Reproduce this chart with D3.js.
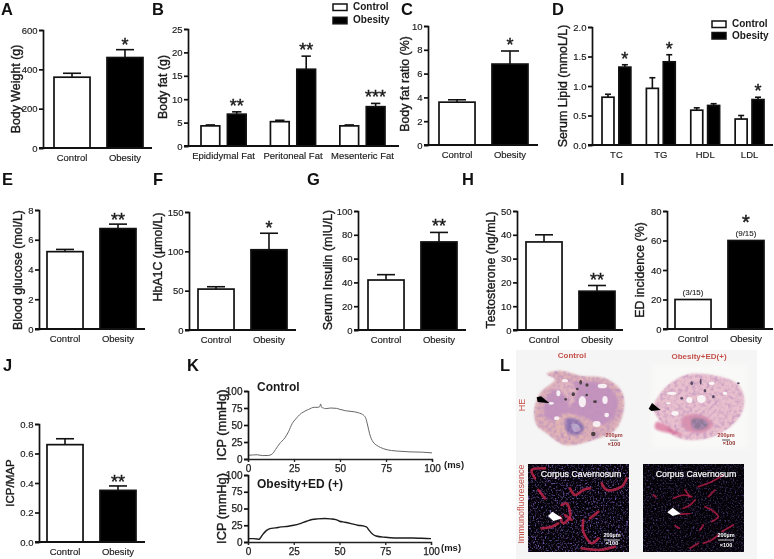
<!DOCTYPE html>
<html><head><meta charset="utf-8">
<script src="https://cdn.jsdelivr.net/npm/d3@7"></script>
<style>
html,body{margin:0;padding:0;background:#fff}
svg{display:block;filter:blur(0.3px)}
text{font-family:"Liberation Sans",Arial,sans-serif;fill:#1a1a1a}
.tick text{font-size:9.5px;stroke:#1a1a1a;stroke-width:.15px}
.title{font-size:12.4px;stroke:#1a1a1a;stroke-width:.38px}
.letter{font-size:16.5px;font-weight:bold;fill:#111}
</style></head><body>
<svg id="c" width="774" height="559"></svg>
<script>
// ---------- data ----------
const groups2 = ["Control","Obesity"];
const seriesNames = ["Control","Obesity"];

const weightMean = [360,460], weightTop = [380,500];
const fatCats = ["Epididymal Fat","Peritoneal Fat","Mesenteric Fat"];
const fatControl = [4.3,5.2,4.3], fatControlTop = [4.5,5.5,4.5];
const fatObesity = [6.8,16.4,8.4], fatObesityTop = [7.3,19.2,9.1];
const fatStars = ["**","**","***"];
const ratioMean = [3.6,6.8], ratioTop = [3.8,7.9];
const lipidCats = ["TC","TG","HDL","LDL"];
const lipidControl = [0.81,0.96,0.59,0.44], lipidControlTop = [0.86,1.14,0.63,0.50];
const lipidObesity = [1.32,1.41,0.67,0.77], lipidObesityTop = [1.36,1.53,0.70,0.81];
const lipidStars = ["*","*","","*"];
const glucoseMean = [5.2,6.75], glucoseTop = [5.35,7.05];
const hba1cMean = [52,102], hba1cTop = [55,123];
const insulinMean = [42,74], insulinTop = [46.5,82];
const testoMean = [37,16.3], testoTop = [40,18.7];
const edMean = [20,60];
const edLabels = ["(3/15)","(9/15)"];
const icpMean = [0.66,0.35], icpTop = [0.70,0.38];

const icpTimeA = [0,3,5,8,11,13,15,17,20,22,24,26,28,30,33,36,38,39,39.5,40,41,42,45,48,50,53,56,60,63,64,65,66,67,68,70,72,75,78,82,88,95,100];
const icpCtrl  = [5.5,6,6.2,5,5.2,7,14,22,31,40,52,59,65,69,73,76,76,77,81,76,75,74,75,74.5,73,71,70,68,64,60,50,38,30,25,20,17,14,12.5,11.5,10.5,10,9];
const icpTimeB = [0,3,5,6,7,8,10,12,15,18,22,25,28,32,35,38,42,45,48,50,53,57,60,63,65,66,68,70,75,80,85,90,95,100];
const icpObese = [5,5,4.5,4,7,11,17,20,21,22.5,23.5,25,27,31,33.5,34.5,35,34.5,33.5,31,29.5,27,25,24,22,18,12,9,7,6,6,6,5.5,5];
const icpTicks = [0,25,50,75,100];

// ---------- layout ----------
const svg = d3.select("#c");
const defs = svg.append("defs");
const AXIS = 1.7;

function yAxisGroup(g, y, x0, ticks, fmt){
  const ax = d3.axisLeft(y).tickValues(ticks).tickSize(4).tickPadding(1.5);
  if(fmt) ax.tickFormat(d3.format(fmt));
  const a = g.append("g").attr("transform",`translate(${x0},0)`).call(ax);
  a.selectAll("path,line").attr("stroke","#111").attr("stroke-width",AXIS);
  return a;
}
function xBase(g, x0, x1, y0){
  g.append("line").attr("x1",x0-4).attr("x2",x1).attr("y1",y0).attr("y2",y0)
    .attr("stroke","#111").attr("stroke-width",AXIS+.3);
}
function xLabels(g, scale, y0){
  const a = g.append("g").attr("transform",`translate(0,${y0})`)
    .call(d3.axisBottom(scale).tickSize(0).tickPadding(6));
  a.select(".domain").remove();
}
function ytitle(t,x,y,size){
  const el = svg.append("text").attr("class","title")
    .attr("transform",`translate(${x},${y}) rotate(-90)`)
    .attr("text-anchor","middle").attr("dominant-baseline","middle").text(t);
  if(size) el.style("font-size",size+"px");
}
function star(g,s,x,yc,fs){
  fs = fs||18;
  g.append("text").attr("x",x).attr("y",yc+fs*.52).attr("text-anchor","middle")
    .style("font-size",fs+"px").style("stroke","#1a1a1a").style("stroke-width",".45px").text(s);
}
function bar(g,x,w,yS,v,top,fill){
  const y0 = yS.range()[0];
  if(top!=null){
    g.append("line").attr("x1",x+w/2).attr("x2",x+w/2).attr("y1",yS(v)).attr("y2",yS(top))
      .attr("stroke","#111").attr("stroke-width",1.6);
    g.append("line").attr("x1",x+w/4).attr("x2",x+w*3/4).attr("y1",yS(top)).attr("y2",yS(top))
      .attr("stroke","#111").attr("stroke-width",1.6);
  }
  g.append("rect").attr("x",x).attr("width",w).attr("y",yS(v)).attr("height",y0-yS(v))
    .attr("fill",fill).attr("stroke","#111").attr("stroke-width",1.7);
}
function simple(o){
  const g = svg.append("g");
  const y = d3.scaleLinear().domain(o.dom).range([o.y0,o.y1]);
  const x = d3.scaleBand().domain(groups2).range(o.bars).paddingInner(.32).paddingOuter(0);
  o.mean.forEach((v,i)=>bar(g,x(groups2[i]),x.bandwidth(),y,v,o.top?o.top[i]:null,i?"#000":"#fff"));
  yAxisGroup(g,y,o.x0,o.ticks,o.fmt);
  xBase(g,o.x0,o.x1,o.y0);
  xLabels(g,x,o.y0);
  if(o.star){
    const i=o.starIdx;
    star(g,o.star,x(groups2[i])+x.bandwidth()/2,y(o.top[i])-(o.starOff||8.5));
  }
  ytitle(o.title,o.tx,o.ty,o.tsize);
  return {g,x,y};
}
function grouped(o){
  const g = svg.append("g");
  const y = d3.scaleLinear().domain(o.dom).range([o.y0,o.y1]);
  const x = d3.scaleBand().domain(o.cats).range(o.bars).paddingInner(.35).paddingOuter(0);
  const xi = d3.scaleBand().domain(seriesNames).range([0,x.bandwidth()]).paddingInner(.29).paddingOuter(0);
  o.cats.forEach((c,i)=>{
    bar(g,x(c)+xi("Control"),xi.bandwidth(),y,o.a[i],o.aTop[i],"#fff");
    bar(g,x(c)+xi("Obesity"),xi.bandwidth(),y,o.b[i],o.bTop[i],"#000");
    if(o.stars[i]) star(g,o.stars[i],x(c)+xi("Obesity")+xi.bandwidth()/2,y(o.bTop[i])-9.5);
  });
  yAxisGroup(g,y,o.x0,o.ticks,o.fmt);
  xBase(g,o.x0,o.x1,o.y0);
  xLabels(g,x,o.y0);
  ytitle(o.title,o.tx,o.ty);
  // legend
  seriesNames.forEach((n,i)=>{
    g.append("rect").attr("x",o.lx).attr("y",o.ly+i*o.ldy).attr("width",14).attr("height",6.5)
      .attr("fill",i?"#000":"#fff").attr("stroke","#111").attr("stroke-width",1.5);
    g.append("text").attr("x",o.lx+20).attr("y",o.ly+i*o.ldy+3.5).attr("dominant-baseline","middle")
      .style("font-size","10px").style("font-weight","bold").style("stroke","none").text(n);
  });
}

simple({mean:weightMean,top:weightTop,dom:[0,600],ticks:[0,200,400,600],y0:148,y1:30,x0:43,x1:152,bars:[54,143],title:"Body Weight (g)",tx:17,ty:89,star:"*",starIdx:1,starOff:8});
grouped({cats:fatCats,a:fatControl,aTop:fatControlTop,b:fatObesity,bTop:fatObesityTop,stars:fatStars,dom:[0,25],ticks:d3.range(0,26,5),y0:146,y1:29,x0:188,x1:399,bars:[201,385],title:"Body fat (g)",tx:164,ty:87,lx:333,ly:4,ldy:13.3});
simple({mean:ratioMean,top:ratioTop,dom:[0,10],ticks:d3.range(0,11,2),y0:145,y1:26,x0:428,x1:538,bars:[439,528],title:"Body fat ratio (%)",tx:406,ty:84,star:"*",starIdx:1,starOff:9});
grouped({cats:lipidCats,a:lipidControl,aTop:lipidControlTop,b:lipidObesity,bTop:lipidObesityTop,stars:lipidStars,dom:[0,2],ticks:[0,.5,1,1.5,2],fmt:".1f",y0:145,y1:27,x0:592,x1:773,bars:[602,764],title:"Serum Lipid (mmoL/L)",tx:564,ty:86,lx:712,ly:21,ldy:11.5});

simple({mean:glucoseMean,top:glucoseTop,dom:[0,8],ticks:[0,2,4,6,8],y0:329,y1:210,x0:39,x1:145,bars:[47,136],title:"Blood glucose (mol/L)",tx:19,ty:270,star:"**",starIdx:1,starOff:7});
simple({mean:hba1cMean,top:hba1cTop,dom:[0,150],ticks:[0,50,100,150],y0:330,y1:212,x0:189,x1:296,bars:[198,287],title:"HbA1C (µmol/L)",tx:159,ty:257,star:"*",starIdx:1,starOff:9});
simple({mean:insulinMean,top:insulinTop,dom:[0,100],ticks:d3.range(0,101,20),y0:330,y1:211,x0:358,x1:466,bars:[368,457],title:"Serum Insulin (mIU/L)",tx:329,ty:270,star:"**",starIdx:1,starOff:10});
simple({mean:testoMean,top:testoTop,dom:[0,50],ticks:d3.range(0,51,10),y0:330,y1:211,x0:517,x1:623,bars:[526,615],title:"Testosterone (ng/mL)",tx:492,ty:270,star:"**",starIdx:1,starOff:9});
const edP = simple({mean:edMean,dom:[0,80],ticks:[0,20,40,60,80],y0:329,y1:211,x0:667,x1:773,bars:[675,764],title:"ED incidence (%)",tx:641,ty:270});
edMean.forEach((v,i)=>{
  edP.g.append("text").attr("x",edP.x(groups2[i])+edP.x.bandwidth()/2).attr("y",edP.y(v)-5)
    .attr("text-anchor","middle").style("font-size","8px").style("stroke","#1a1a1a").style("stroke-width",".1px").text(edLabels[i]);
});
star(edP.g,"*",edP.x("Obesity")+edP.x.bandwidth()/2,219,20);
simple({mean:icpMean,top:icpTop,dom:[0,.8],ticks:[0,.2,.4,.6,.8],fmt:".1f",y0:542,y1:424,x0:39,x1:145,bars:[47,136],title:"ICP/MAP",tx:11,ty:483,tsize:11.5,star:"**",starIdx:1,starOff:7});

// panel K
function trace(o){
  const g = svg.append("g");
  const y = d3.scaleLinear().domain([0,100]).range([o.y0,o.y1]);
  const x = d3.scaleLinear().domain([0,100]).range([248,o.x1]);
  const line = d3.line().x(d=>x(d[0])).y(d=>y(d[1])).curve(d3.curveMonotoneX);
  g.append("path").datum(d3.zip(o.t,o.v)).attr("d",line).attr("fill","none").attr("stroke",o.color).attr("stroke-width",o.w);
  const ya = yAxisGroup(g,y,248,icpTicks);
  const xa = g.append("g").attr("transform",`translate(0,${o.y0})`).call(d3.axisBottom(x).tickValues(icpTicks).tickSize(3).tickPadding(3));
  xa.selectAll("path,line").attr("stroke","#222").attr("stroke-width",1.3);
  [ya,xa].forEach(a=>a.selectAll("text").style("font-size","10px").style("stroke-width",".25px"));
  g.append("text").attr("x",257).attr("y",o.ly).attr("dominant-baseline","middle").style("font-size","12px").style("font-weight","bold").style("stroke","none").text(o.label);
  g.append("text").attr("x",o.mx).attr("y",o.y0+6).attr("dominant-baseline","middle").style("font-size","9.5px").style("font-weight","bold").text("(ms)");
  ytitle("ICP (mmHg)",223,(o.y0+o.y1)/2,12.8);
}
trace({t:icpTimeA,v:icpCtrl,y0:459,y1:391,x1:432,color:"#666",w:1,label:"Control",ly:388,mx:444});
trace({t:icpTimeB,v:icpObese,y0:542,y1:475,x1:431,color:"#1c1c1c",w:1.4,label:"Obesity+ED (+)",ly:485,mx:441});

// panel letters
[["A",1,15],["B",152,15],["C",401,15],["D",552,15],["E",2,185],["F",153,185],["G",307,185],["H",462,185],["I",620,185],["J",3,371],["K",187,371],["L",500,371]]
 .forEach(([t,x,y])=>svg.append("text").attr("class","letter").attr("x",x).attr("y",y).text(t));

// ---------- panel L : micrographs (illustrative redraw of the photographs) ----------
const blur = (id,s)=>defs.append("filter").attr("id",id).attr("x","-20%").attr("y","-20%").attr("width","140%").attr("height","140%").append("feGaussianBlur").attr("stdDeviation",s);
blur("b1",.9); blur("b2",.55); blur("b3",2.5);
const sp = defs.append("filter").attr("id","speck").attr("x",0).attr("y",0).attr("width","100%").attr("height","100%");
sp.append("feTurbulence").attr("type","fractalNoise").attr("baseFrequency",.6).attr("numOctaves",2).attr("seed",4);
sp.append("feColorMatrix").attr("values","0 0 0 0 .24  0 0 0 0 .14  0 0 0 0 .62  2.2 2.2 0 0 -2.2");
sp.append("feGaussianBlur").attr("stdDeviation",.4);
const tex = defs.append("filter").attr("id","tex").attr("x",0).attr("y",0).attr("width","100%").attr("height","100%");
tex.append("feTurbulence").attr("type","fractalNoise").attr("baseFrequency",.28).attr("numOctaves",2).attr("seed",9);
tex.append("feColorMatrix").attr("values","0 0 0 0 .5  0 0 0 0 .28  0 0 0 0 .52  2 2 0 0 -1.75");
tex.append("feGaussianBlur").attr("stdDeviation",.5);
tex.append("feComposite").attr("in2","SourceAlpha").attr("operator","in");

const L = svg.append("g");
L.append("rect").attr("x",516).attr("y",350).attr("width",241).attr("height",209).attr("fill","#f5f5f5");
L.append("rect").attr("x",652).attr("y",364).attr("width",96).attr("height",84).attr("fill","#f9f9f8").attr("filter","url(#b3)");
const closed = d3.line().curve(d3.curveCatmullRomClosed);
const open = d3.line().curve(d3.curveCatmullRom);
// crop-space helper: zoom crops were 3x
const cp = (ox,oy,pts)=>pts.map(p=>[ox+p[0]/3,oy+p[1]/3]);
function blob(ox,oy,pts,fill,f){
  const e=L.append("path").attr("d",closed(cp(ox,oy,pts))).attr("fill",fill);
  if(f) e.attr("filter",`url(#${f})`);
  return e;
}
function dots(ox,oy,list,fill,op){
  list.forEach(d=>L.append("ellipse").attr("cx",ox+d[0]/3).attr("cy",oy+d[1]/3).attr("rx",d[2]/3).attr("ry",(d[3]||d[2])/3).attr("fill",fill).attr("opacity",op||1).attr("filter","url(#b2)"));
}
function arrow(ox,oy,a,fill){
  L.append("path").attr("d",d3.line()(cp(ox,oy,a))+"Z").attr("fill",fill).attr("filter","url(#b2)");
}
// HE control
const he1Outer=[[58,180],[75,130],[120,88],[95,72],[135,62],[200,78],[270,85],[320,125],[326,180],[300,240],[240,268],[150,285],[95,250],[65,225]];
const he1Inner=[[85,175],[105,130],[140,100],[200,95],[260,100],[305,140],[300,200],[260,225],[200,200],[130,215],[95,205]];
blob(515,350,he1Outer,"#deb0b6","b1");
blob(515,350,he1Inner,"#c594bd","b1");
blob(515,350,[[110,110],[165,95],[185,125],[165,170],[150,135]],"#e2b6be","b1");
blob(515,350,[[210,215],[150,190],[115,225],[150,265],[210,258]],"#e2b5b2","b1");
blob(515,350,[[155,205],[190,210],[208,235],[190,255],[160,250],[150,228]],"#8a72ae","b1");
blob(515,350,[[170,222],[190,225],[195,240],[178,245]],"#b8aacd","b2");
blob(515,350,he1Outer,"#fff").attr("filter","url(#tex)").attr("opacity",.75);
dots(515,350,[[202,155,11,17],[150,92,9,5],[262,108,14,7],[270,150,8,12],[108,160,9,4],[125,205,8,6],[245,222,12,9],[275,195,7,7],[130,130,6,9]],"#f9f3f5",.95);
dots(515,350,[[197,97,4,7],[216,105,5,5],[175,133,5,6],[187,117,4,4],[240,155,6,4],[152,148,4,4],[215,135,4,4],[235,252,7,7]],"#4d4044");
arrow(515,350,[[65,142],[78,139],[104,160],[68,156]],"#000");
// HE obesity
const he2Outer=[[40,175],[65,125],[105,90],[150,72],[230,78],[290,100],[312,140],[305,190],[265,235],[190,268],[110,262],[70,225]];
blob(640,350,he2Outer,"#e9c0cd","b1");
blob(640,350,[[130,200],[185,195],[220,222],[195,245],[150,245],[125,225]],"#dc92ad","b1");
blob(640,350,[[155,208],[190,208],[205,225],[185,238],[160,235]],"#8f7a98","b1");
blob(640,350,he2Outer,"#fff").attr("filter","url(#tex)").attr("opacity",.6);
dots(640,350,[[184,147,13,12],[95,130,14,5],[148,150,9,9],[105,190,11,7],[215,100,9,5],[255,130,7,5],[85,160,7,3]],"#fbf8f8",.95);
dots(640,350,[[155,100,4,6],[182,95,3,9],[195,122,4,5],[295,100,4,3],[220,140,4,5],[125,145,4,4]],"#5a4a66");
blob(640,350,[[50,215],[100,240],[130,255],[90,250],[45,235]],"#d6648f","b1").attr("opacity",.7);
arrow(640,350,[[26,176],[36,159],[62,180],[34,183]],"#000");
// scale notes in HE
[[614,436,"200µm"],[614,445,"×100"],[726,436,"200µm"],[729,444,"×100"]].forEach(([x,y,t])=>
  L.append("text").attr("x",x).attr("y",y).attr("text-anchor","middle").attr("dominant-baseline","middle").style("font-size","5.5px").style("font-weight","bold").style("fill",y<440?"#a03a3a":"#8a2a2a").text(t));
[[610,618,440.2,"#555"],[722,730,440,"#222"]].forEach(([a,b,y,c])=>L.append("line").attr("x1",a).attr("x2",b).attr("y1",y).attr("y2",y).attr("stroke",c).attr("stroke-width",.8));
// IF images
const if1=[[[60,70],[50,45],[90,40]],[[165,100],[180,120],[205,105],[225,100]],[[260,85],[275,105],[320,95],[335,70]],[[140,150],[155,145],[165,185],[145,205],[135,185]],[[80,220],[110,215],[130,205]],[[205,195],[205,230],[230,265],[250,250]],[[225,190],[250,170]],[[70,105],[90,130]],[[100,125],[140,125]],[[200,280],[250,285],[300,275]],[[150,180],[170,195]]];
const if2=[[[100,130],[130,120],[155,125]],[[175,95],[215,80],[250,60]],[[135,105],[150,125]],[[130,160],[150,150],[165,135]],[[120,178],[150,175]],[[195,155],[215,165],[235,185],[215,200]],[[205,125],[225,105]],[[180,225],[190,210]],[[245,230],[280,210]],[[190,265],[215,255],[235,240]],[[150,280],[175,265]],[[105,212],[118,220]],[[40,120],[48,126]]];
function ifImage(x,ox,vessels,w,col,op){
  L.append("rect").attr("x",x).attr("y",464).attr("width",101).attr("height",88).attr("fill","#040206");
  L.append("rect").attr("x",x).attr("y",464).attr("width",101).attr("height",88).attr("filter","url(#speck)").attr("opacity",op);
  vessels.forEach(v=>L.append("path").attr("d",open(cp(ox,455,v))).attr("fill","none").attr("stroke",col).attr("stroke-width",w).attr("stroke-linecap","round").attr("opacity",.8).attr("filter","url(#b2)"));
}
ifImage(528,515,if1,2.6,"#c8284e",.85);
ifImage(643,640,if2,1.7,"#b81c48",.5);
arrow(515,455,[[99,183],[112,170],[142,190],[115,198]],"#fff");
arrow(640,455,[[82,172],[98,158],[122,176],[98,183]],"#fff");
[[581,475],[696,475]].forEach(([x,y])=>L.append("text").attr("x",x).attr("y",y).attr("text-anchor","middle").attr("dominant-baseline","middle")
  .style("font-size","8.8px").style("fill","#fff").style("stroke","#fff").style("stroke-width",".2px").text("Corpus Cavernosum"));
[[612,536,"200µm"],[612,544,"×100"],[726,536,"200µm"],[726,546,"×100"]].forEach(([x,y,t])=>
  L.append("text").attr("x",x).attr("y",y).attr("text-anchor","middle").attr("dominant-baseline","middle").style("font-size","5.5px").style("font-weight","bold").style("fill","#fff").text(t));
[[604,620,540],[718,734,540]].forEach(([a,b,y])=>L.append("line").attr("x1",a).attr("x2",b).attr("y1",y).attr("y2",y).attr("stroke","#fff").attr("stroke-width",.8));
// red labels
const red="#c4504a";
[[572,356,"Control"],[699,357,"Obesity+ED(+)"]].forEach(([x,y,t])=>L.append("text").attr("x",x).attr("y",y).attr("text-anchor","middle").attr("dominant-baseline","middle").style("font-size","8px").style("font-weight","bold").style("fill",red).text(t));
[[523,405,"HE"],[522,504,"Immunofluoresence"]].forEach(([x,y,t])=>L.append("text").attr("transform",`translate(${x},${y}) rotate(-90)`).attr("text-anchor","middle").attr("dominant-baseline","middle").style("font-size","9px").style("fill",red).text(t));
</script>
</body></html>
